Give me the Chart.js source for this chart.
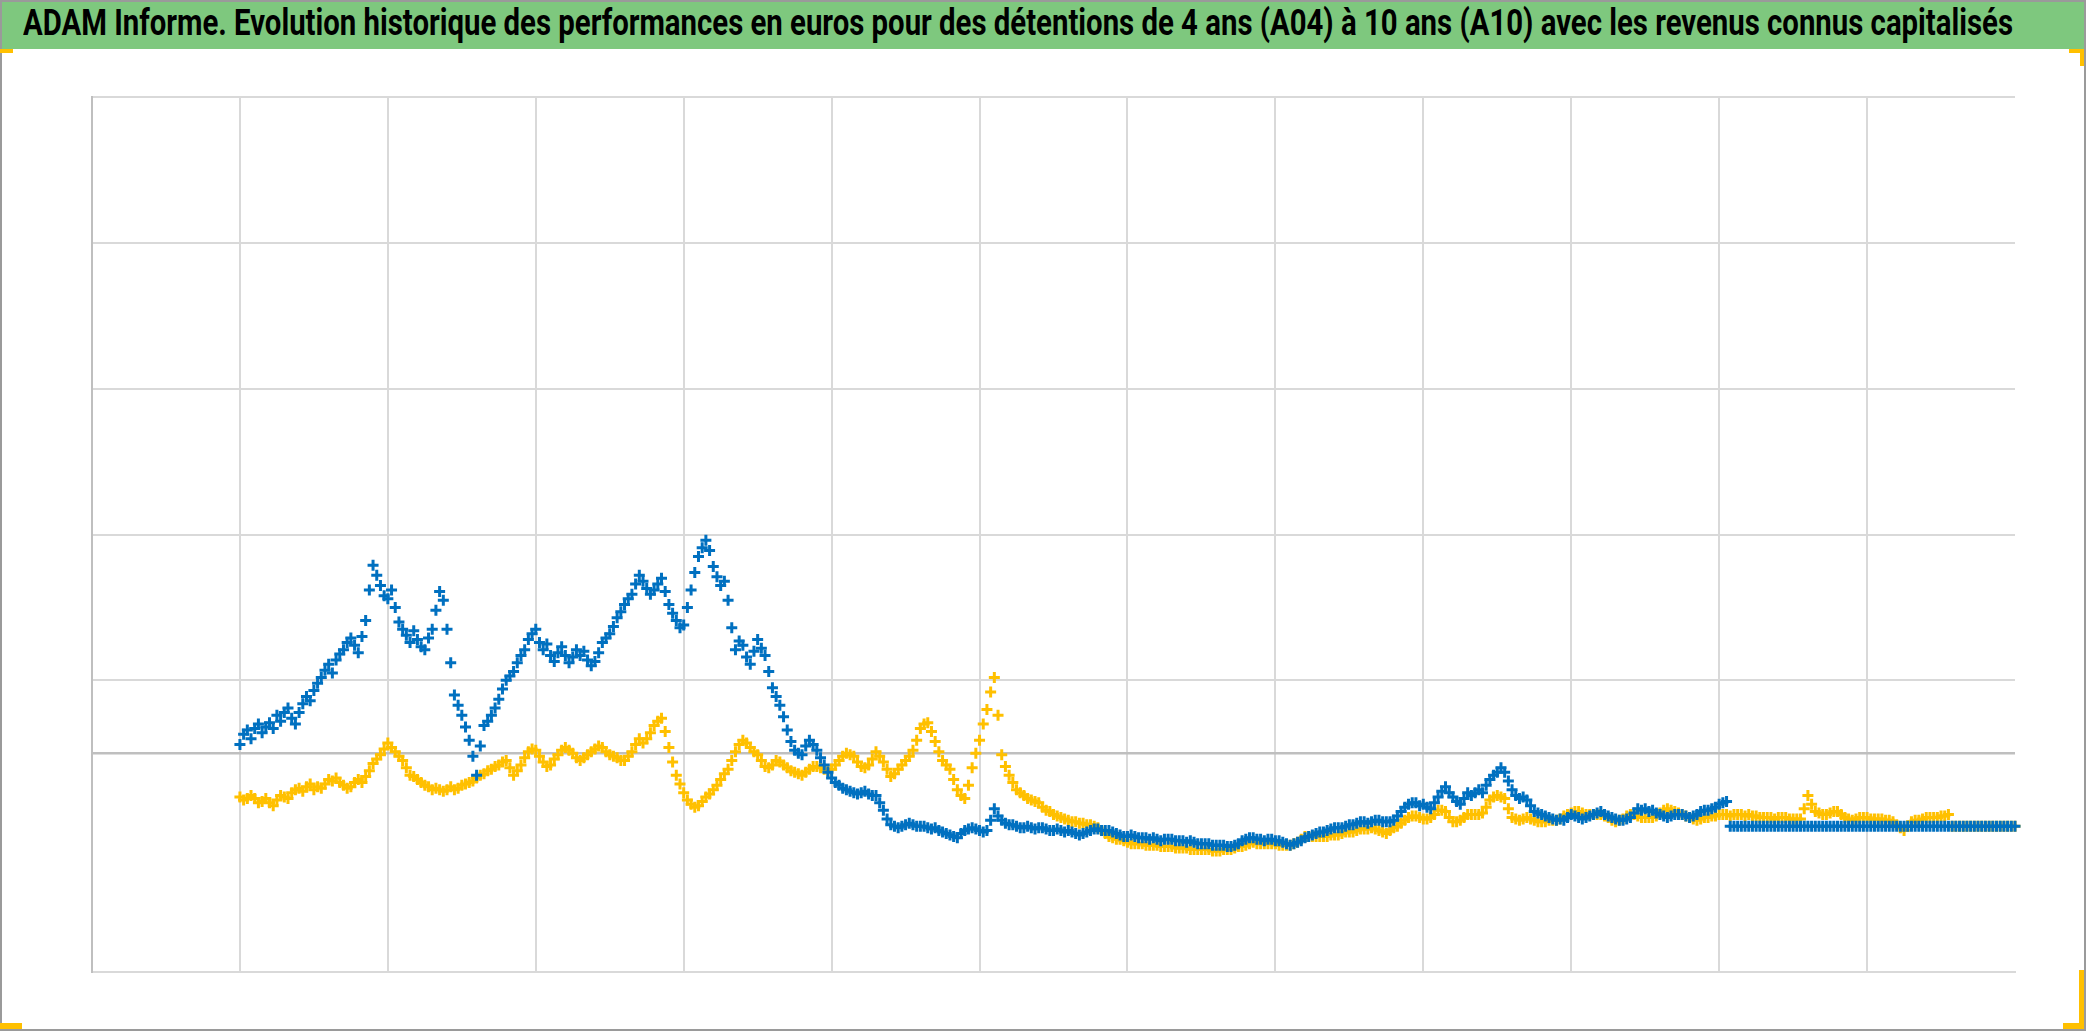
<!DOCTYPE html>
<html>
<head>
<meta charset="utf-8">
<script src="https://cdn.jsdelivr.net/npm/chart.js@4.4.1/dist/chart.umd.min.js"></script>
<style>
html,body{margin:0;padding:0;background:#fff;}
body{width:2086px;height:1031px;position:relative;overflow:hidden;}
#c{position:absolute;left:0;top:0;}
#titleBar{position:absolute;left:0;top:0;width:2086px;height:49px;background:#7ec87e;}
#titleText{position:absolute;left:23px;top:5px;line-height:36px;font-size:37px;font-weight:bold;color:#000;
  font-family:"Liberation Sans Narrow","Roboto","Open Sans",sans-serif;white-space:nowrap;transform-origin:0 0;}
#frame{position:absolute;left:0;top:0;width:2086px;height:1031px;box-sizing:border-box;border:2px solid #9a9a9a;pointer-events:none;}
.mk{position:absolute;background:#ffc000;}
</style>
</head>
<body>
<canvas id="c" width="2086" height="1031"></canvas>
<div id="titleBar"><span id="titleText">ADAM Informe. Evolution historique des performances en euros pour des détentions de 4 ans (A04) à 10 ans (A10) avec les revenus connus capitalisés</span></div>
<div id="frame"></div>
<div class="mk" style="left:0;top:49px;width:13px;height:4px"></div>
<div class="mk" style="left:2069px;top:49px;width:15px;height:4px"></div>
<div class="mk" style="left:2080px;top:49px;width:4px;height:17px"></div>
<div class="mk" style="left:0;top:1023px;width:22px;height:6px"></div>
<div class="mk" style="left:2063px;top:1023px;width:21px;height:6px"></div>
<div class="mk" style="left:2079px;top:970px;width:5px;height:59px"></div>
<script>
/* DATA */
const X_START=1, X_STEP=0.025;         // one value every 1/40 of a grid interval
const X_MIN=0, X_MAX=13;
const Y_MIN=0, Y_MAX=600;
const Y_GRID=[0,150,200,300,400,500,600];
const Y_AXIS_LINE=150;

// A10 (blue)
const serieA10=[
156,163,166,160,167,170,164,168,171,167,176,172,178,181,174,170,178,184,189,186,
193,198,202,207,211,205,214,218,221,226,229,224,219,230,241,262,279,272,265,258,
256,262,250,240,235,231,226,234,228,223,221,229,235,248,261,255,235,212,190,183,
176,168,159,148,135,155,169,172,176,181,187,194,200,203,206,212,217,221,228,232,
235,226,221,225,217,213,219,223,217,212,216,221,217,220,214,210,213,219,226,229,
232,237,243,247,252,256,259,266,272,268,263,259,262,266,270,261,252,246,241,236,
238,250,262,274,285,291,296,289,278,271,265,268,255,236,221,227,224,216,211,220,
228,222,217,206,195,189,183,175,166,158,152,150,149,155,159,156,152,147,142,137,
133,130,128,126,125,124,123,122,123,124,122,121,121,116,111,105,101,100,99,100,
101,102,101,100,100,100,99,98,99,97,96,95,94,93,92,95,97,98,99,98,
97,96,97,104,112,107,104,102,101,101,100,99,99,100,99,98,99,99,98,97,
97,98,97,96,97,96,95,94,95,96,97,98,98,97,97,97,96,95,94,93,
93,94,93,92,92,92,91,92,91,90,91,91,91,90,90,90,89,90,89,88,
88,88,88,87,87,87,87,86,86,87,88,90,91,92,92,91,91,90,91,91,
90,90,89,88,87,88,89,90,92,93,94,95,96,96,97,98,99,99,99,100,
101,101,102,103,103,102,103,104,104,103,103,103,104,107,110,113,115,116,116,114,
115,113,112,116,120,124,127,123,120,117,115,119,123,121,123,125,123,128,132,135,
137,140,137,131,125,121,119,120,118,114,110,109,108,107,106,105,104,105,104,106,
108,107,106,105,106,107,108,109,110,108,107,106,105,104,104,105,106,109,112,111,
112,110,111,109,108,107,106,107,108,108,108,107,106,107,108,110,111,111,112,113,
115,116,117,
100,100,100,100,100,100,100,100,100,100,100,100,100,100,100,100,100,100,100,100,
100,100,100,100,100,100,100,100,100,100,100,100,100,100,100,100,100,100,100,100,
100,100,100,100,100,100,100,100,100,100,100,100,100,100,100,100,100,100,100,100,
100,100,100,100,100,100,100,100,100,100,100,100,100,100,100,100,100,100
];

// A04 (yellow)
const serieA04=[
120,118,119,121,119,116,117,119,116,114,118,121,120,119,123,125,126,124,127,129,
125,127,126,129,132,131,133,130,128,126,127,130,132,130,134,138,143,146,149,153,
157,154,151,148,145,140,135,134,132,130,128,127,125,126,125,124,125,127,125,126,
128,129,130,131,133,135,136,138,139,141,142,144,145,140,135,138,142,147,151,153,
152,148,144,141,142,146,149,152,154,152,150,147,145,147,149,151,153,155,154,151,
149,148,147,145,145,148,151,156,160,157,160,164,169,172,174,165,154,144,135,129,
123,118,115,113,114,117,120,122,125,128,132,136,139,145,151,156,159,157,154,151,
149,145,141,140,142,145,144,142,140,138,137,136,135,137,139,141,141,140,139,138,
139,142,145,148,150,149,148,144,141,140,142,146,151,148,144,139,134,136,139,142,
145,148,152,159,167,170,171,165,158,151,145,142,139,132,125,121,119,128,140,150,
159,170,180,192,202,176,149,141,135,130,125,123,121,119,118,117,116,113,111,110,
108,107,106,105,104,103,103,102,102,101,101,100,99,97,95,93,92,91,91,90,
89,88,88,88,88,87,87,87,87,86,86,86,86,85,85,85,85,84,84,84,
84,84,84,83,83,83,84,84,84,85,86,86,87,88,89,88,88,88,88,88,
88,87,87,87,87,88,89,91,93,93,93,93,93,93,93,94,94,94,95,96,
96,96,97,98,98,98,99,98,97,96,95,97,99,100,102,104,106,107,107,106,
105,105,106,108,111,111,110,106,103,103,104,106,108,108,108,108,109,113,118,120,
121,120,119,112,106,105,104,105,106,105,104,103,103,103,104,104,104,105,107,108,
109,110,110,109,108,108,108,108,108,107,106,104,103,104,105,107,108,108,107,106,
106,106,106,107,109,111,112,111,110,109,108,107,106,105,104,105,106,106,107,107,
108,108,108,107,108,108,108,107,108,107,107,106,106,106,106,105,106,106,106,105,
105,105,105,112,121,115,110,109,108,108,109,110,110,108,106,105,104,105,106,106,
106,105,105,105,105,104,104,103,101,99,97,100,103,104,104,105,106,106,106,106,
107,107,108,
100,100,100,100,100,100,100,100,100,100,100,100,100,100,100,100,100,100
];

/* TITLE: stretch to the bar width */
const tt=document.getElementById('titleText');
const tw=tt.getBoundingClientRect().width;
tt.style.transform='scaleX('+(1990/tw)+')';

/* CHART */
const pts=arr=>arr.map((v,i)=>({x:X_START+i*X_STEP,y:v}));
const gridC='#d9d9d9', axisC='#bfbfbf';
const mark={pointStyle:'cross',pointRadius:5.5,pointBorderWidth:3,clip:false};

new Chart(document.getElementById('c'),{
  type:'scatter',
  data:{datasets:[
    {...mark,label:'A10',data:pts(serieA10),pointBorderColor:'#0070c0',pointBackgroundColor:'#0070c0',order:1},
    {...mark,label:'A04',data:pts(serieA04),pointBorderColor:'#ffc000',pointBackgroundColor:'#ffc000',order:2}
  ]},
  options:{
    responsive:false,animation:false,
    layout:{padding:{left:92,top:97,right:71,bottom:59}},
    plugins:{legend:{display:false},tooltip:{enabled:false},title:{display:false}},
    scales:{
      x:{type:'linear',min:X_MIN,max:X_MAX,
         ticks:{display:false,stepSize:1},
         grid:{drawTicks:false,lineWidth:2,color:c=>(c.tick&&(c.tick.value===X_MAX||c.tick.value===X_MIN))?'rgba(0,0,0,0)':gridC},
         border:{display:true,color:gridC,width:2}},
      y:{type:'linear',min:Y_MIN,max:Y_MAX,
         afterBuildTicks:s=>{s.ticks=Y_GRID.map(v=>({value:v}));},
         ticks:{display:false},
         grid:{drawTicks:false,
           lineWidth:c=>(c.tick&&c.tick.value===Y_AXIS_LINE)?2.5:2,
           color:c=>{if(!c.tick)return gridC;if(c.tick.value===Y_MIN)return 'rgba(0,0,0,0)';return c.tick.value===Y_AXIS_LINE?axisC:gridC;}},
         border:{display:true,color:axisC,width:2}}
    }
  }
});
</script>
</body>
</html>
